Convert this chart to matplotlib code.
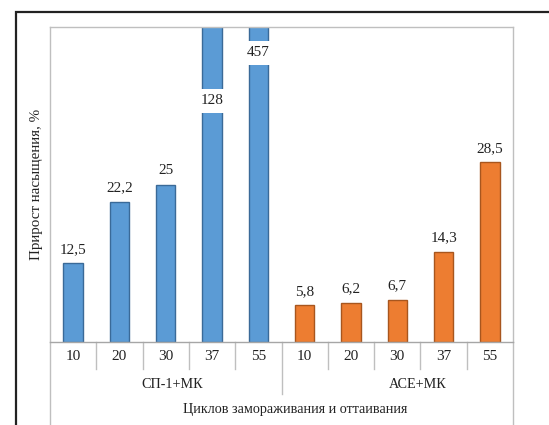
import matplotlib.pyplot as plt
import matplotlib.transforms as mtransforms
from matplotlib.patches import Rectangle

plt.rcParams['font.family'] = ['Liberation Serif', 'DejaVu Serif']

# saturation growth, % by number of freeze-thaw cycles
cycles = ['10', '20', '30', '37', '55']
groups = ['СП-1+МК', 'АСЕ+МК']
sp1_values = [12.5, 22.2, 25, 128, 457]
ace_values = [5.8, 6.2, 6.7, 14.3, 28.5]
sp1_labels = ['12,5', '22,2', '25', '128', '457']
ace_labels = ['5,8', '6,2', '6,7', '14,3', '28,5']

y_max = 50
W, H = 549, 425
fig = plt.figure(figsize=(W / 100, H / 100), dpi=100)

# outer frame
fig.patches.append(Rectangle((15.5 / W, -0.1), 1.2, (H - 11.5) / H + 0.1,
                             transform=fig.transFigure, fill=False,
                             edgecolor='#222222', linewidth=1.6))

ax = fig.add_axes([50 / W, (H - 342) / H, 463 / W, 315 / H])
n = len(cycles)
xs = list(range(2 * n))
values = sp1_values + ace_values
labels = sp1_labels + ace_labels
colors = ['#5B9BD5'] * n + ['#ED7D31'] * n
edges = ['#3A6A98'] * n + ['#A8561E'] * n

ax.bar(xs, values, width=0.42, color=colors, edgecolor=edges, linewidth=1.0, zorder=2)
ax.set_xlim(-0.5, 2 * n - 0.5)
ax.set_ylim(0, y_max)

for x, v, lab in zip(xs, values, labels):
    if v < y_max:
        ax.text(x, v + 1.2, lab, ha='center', va='bottom', fontsize=11, color='#222222')
    else:
        # values off the scale: label sits on a break in the bar
        y_lab = 38.3 if v < 200 else 45.9
        ax.text(x, y_lab, lab, ha='center', va='center', fontsize=11, color='#222222', zorder=3,
                bbox=dict(boxstyle='square,pad=0.35', facecolor='white', edgecolor='none'))

for s in ax.spines.values():
    s.set_color('#BFBFBF')
    s.set_linewidth(1.0)
ax.spines['bottom'].set_color('#A6A6A6')
ax.set_xticks([])
ax.set_yticks([])

ax.set_ylabel('Прирост насыщения, %', fontsize=10.8, color='#222222', labelpad=5)

# multi-level category axis
tr = mtransforms.blended_transform_factory(ax.transData, ax.transAxes)
px = 1 / 315
for i in range(1, 2 * n):
    bottom = -52 * px if i == n else -27 * px
    ax.plot([i - 0.5, i - 0.5], [0, bottom], color='#BFBFBF', lw=1.0, transform=tr, clip_on=False)
for x0 in (-0.5, 2 * n - 0.5):
    ax.plot([x0, x0], [0, -90 * px], color='#BFBFBF', lw=1.0, transform=tr, clip_on=False)

for x, c in zip(xs, cycles * 2):
    ax.text(x, -15 * px, c, ha='center', va='center', fontsize=11, color='#222222', transform=tr)
group_x = [2.13, 7.45]
for gx, gi in zip(group_x, groups):
    ax.text(gx, -43 * px, gi, ha='center', va='center', fontsize=10.2,
            color='#222222', transform=tr)
ax.text(4.79, -68 * px, 'Циклов замораживания и оттаивания', ha='center', va='center',
        fontsize=10.2, color='#222222', transform=tr)

fig.savefig('out.png', dpi=100)
